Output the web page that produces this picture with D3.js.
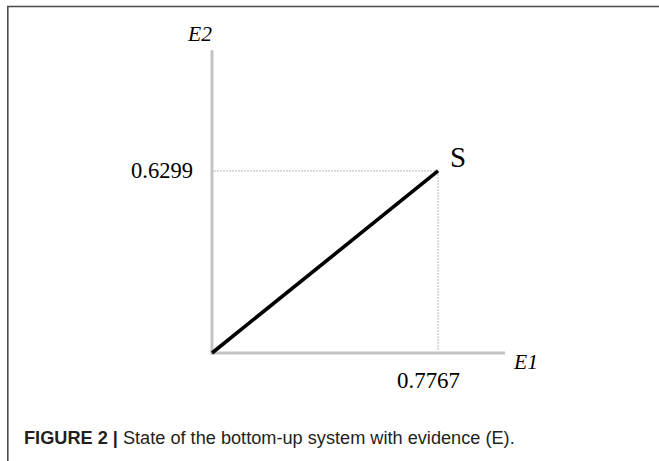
<!DOCTYPE html>
<html><head><meta charset="utf-8">
<script src="https://cdn.jsdelivr.net/npm/d3@7"></script>
<style>html,body{margin:0;padding:0;background:#fff;}svg{display:block;}</style>
</head><body>
<svg id="c" width="659" height="461"></svg>
<script>
// Data
const axisNames = ["E1", "E2"];
const stateLabel = ["S"];
const stateValues = [0.7767, 0.6299];
const tickLabels = ["0.7767", "0.6299"];
const caption = ["FIGURE 2 |", " State of the bottom-up system with evidence (E)."];

const svg = d3.select("#c");
const serif = "'Liberation Serif','Times New Roman',serif";

// Frame
svg.append("line").attr("x1", 7).attr("x2", 659).attr("y1", 6.5).attr("y2", 6.5)
  .attr("stroke", "#4a4a4a").attr("stroke-width", 1.6);
svg.append("line").attr("x1", 7.8).attr("x2", 7.8).attr("y1", 6).attr("y2", 461)
  .attr("stroke", "#4a4a4a").attr("stroke-width", 1.6);

// Scales
const x = d3.scaleLinear().domain([0, 1]).range([212, 503]);
const y = d3.scaleLinear().domain([0, 1]).range([353, 64]);
const xMax = 1.007, yMax = 1.048;

// guide lines (dotted)
const g = svg.append("g");
g.append("line").attr("x1", x(0) + 2).attr("x2", x(stateValues[0])).attr("y1", y(stateValues[1])).attr("y2", y(stateValues[1]))
  .attr("stroke", "#b8b8b8").attr("stroke-width", 1).attr("stroke-dasharray", "2,1");
g.append("line").attr("x1", x(stateValues[0])).attr("x2", x(stateValues[0])).attr("y1", y(stateValues[1])).attr("y2", y(0) - 2)
  .attr("stroke", "#b8b8b8").attr("stroke-width", 1).attr("stroke-dasharray", "2,1");

// axes
g.append("line").attr("x1", x(0)).attr("x2", x(0)).attr("y1", y(yMax)).attr("y2", y(0) + 1.5)
  .attr("stroke", "#c3c3c3").attr("stroke-width", 3);
g.append("line").attr("x1", x(0) - 1.5).attr("x2", x(xMax)).attr("y1", y(0)).attr("y2", y(0))
  .attr("stroke", "#c3c3c3").attr("stroke-width", 3);

// state vector
g.append("path")
  .attr("d", d3.line().x(d => x(d[0])).y(d => y(d[1]))([[0, 0], stateValues]))
  .attr("stroke", "#000").attr("stroke-width", 3.6).attr("fill", "none").attr("stroke-linecap", "butt");

// labels
function fitText(sel, width) {
  const w = sel.node().getComputedTextLength();
  return width / w;
}
g.append("text").text(stateLabel[0]).attr("x", x(stateValues[0]) + 12).attr("y", y(stateValues[1]) - 4)
  .attr("font-family", serif).attr("font-size", 29).attr("fill", "#000");

const t1 = g.append("text").text(tickLabels[1])
  .attr("text-anchor", "end").attr("font-family", serif).attr("font-size", 23.5).attr("fill", "#000");
t1.attr("transform", `translate(${x(0) - 19},${y(stateValues[1]) + 7}) scale(${fitText(t1, 62)},1)`);

const t0 = g.append("text").text(tickLabels[0])
  .attr("font-family", serif).attr("font-size", 23.5).attr("fill", "#000");
t0.attr("transform", `translate(${x(stateValues[0]) - 41},${y(0) + 35}) scale(${fitText(t0, 63)},1)`);

g.append("text").text(axisNames[0]).attr("x", x(xMax) + 9).attr("y", y(0) + 16)
  .attr("font-family", serif).attr("font-style", "italic").attr("font-size", 21.5).attr("fill", "#000");
g.append("text").text(axisNames[1]).attr("x", x(0)).attr("y", 41)
  .attr("text-anchor", "end").attr("font-family", serif).attr("font-style", "italic").attr("font-size", 21.5).attr("fill", "#000");

// caption
const cap = svg.append("text").attr("x", 0).attr("y", 0)
  .attr("font-family", "'Liberation Sans Narrow','Liberation Sans',Arial,sans-serif").attr("font-size", 18.5).attr("fill", "#231f20");
cap.append("tspan").text(caption[0]).attr("font-weight", "bold");
cap.append("tspan").text(caption[1]);
cap.attr("transform", `translate(24,444) scale(${fitText(cap, 491)},1)`);
</script>
</body></html>
